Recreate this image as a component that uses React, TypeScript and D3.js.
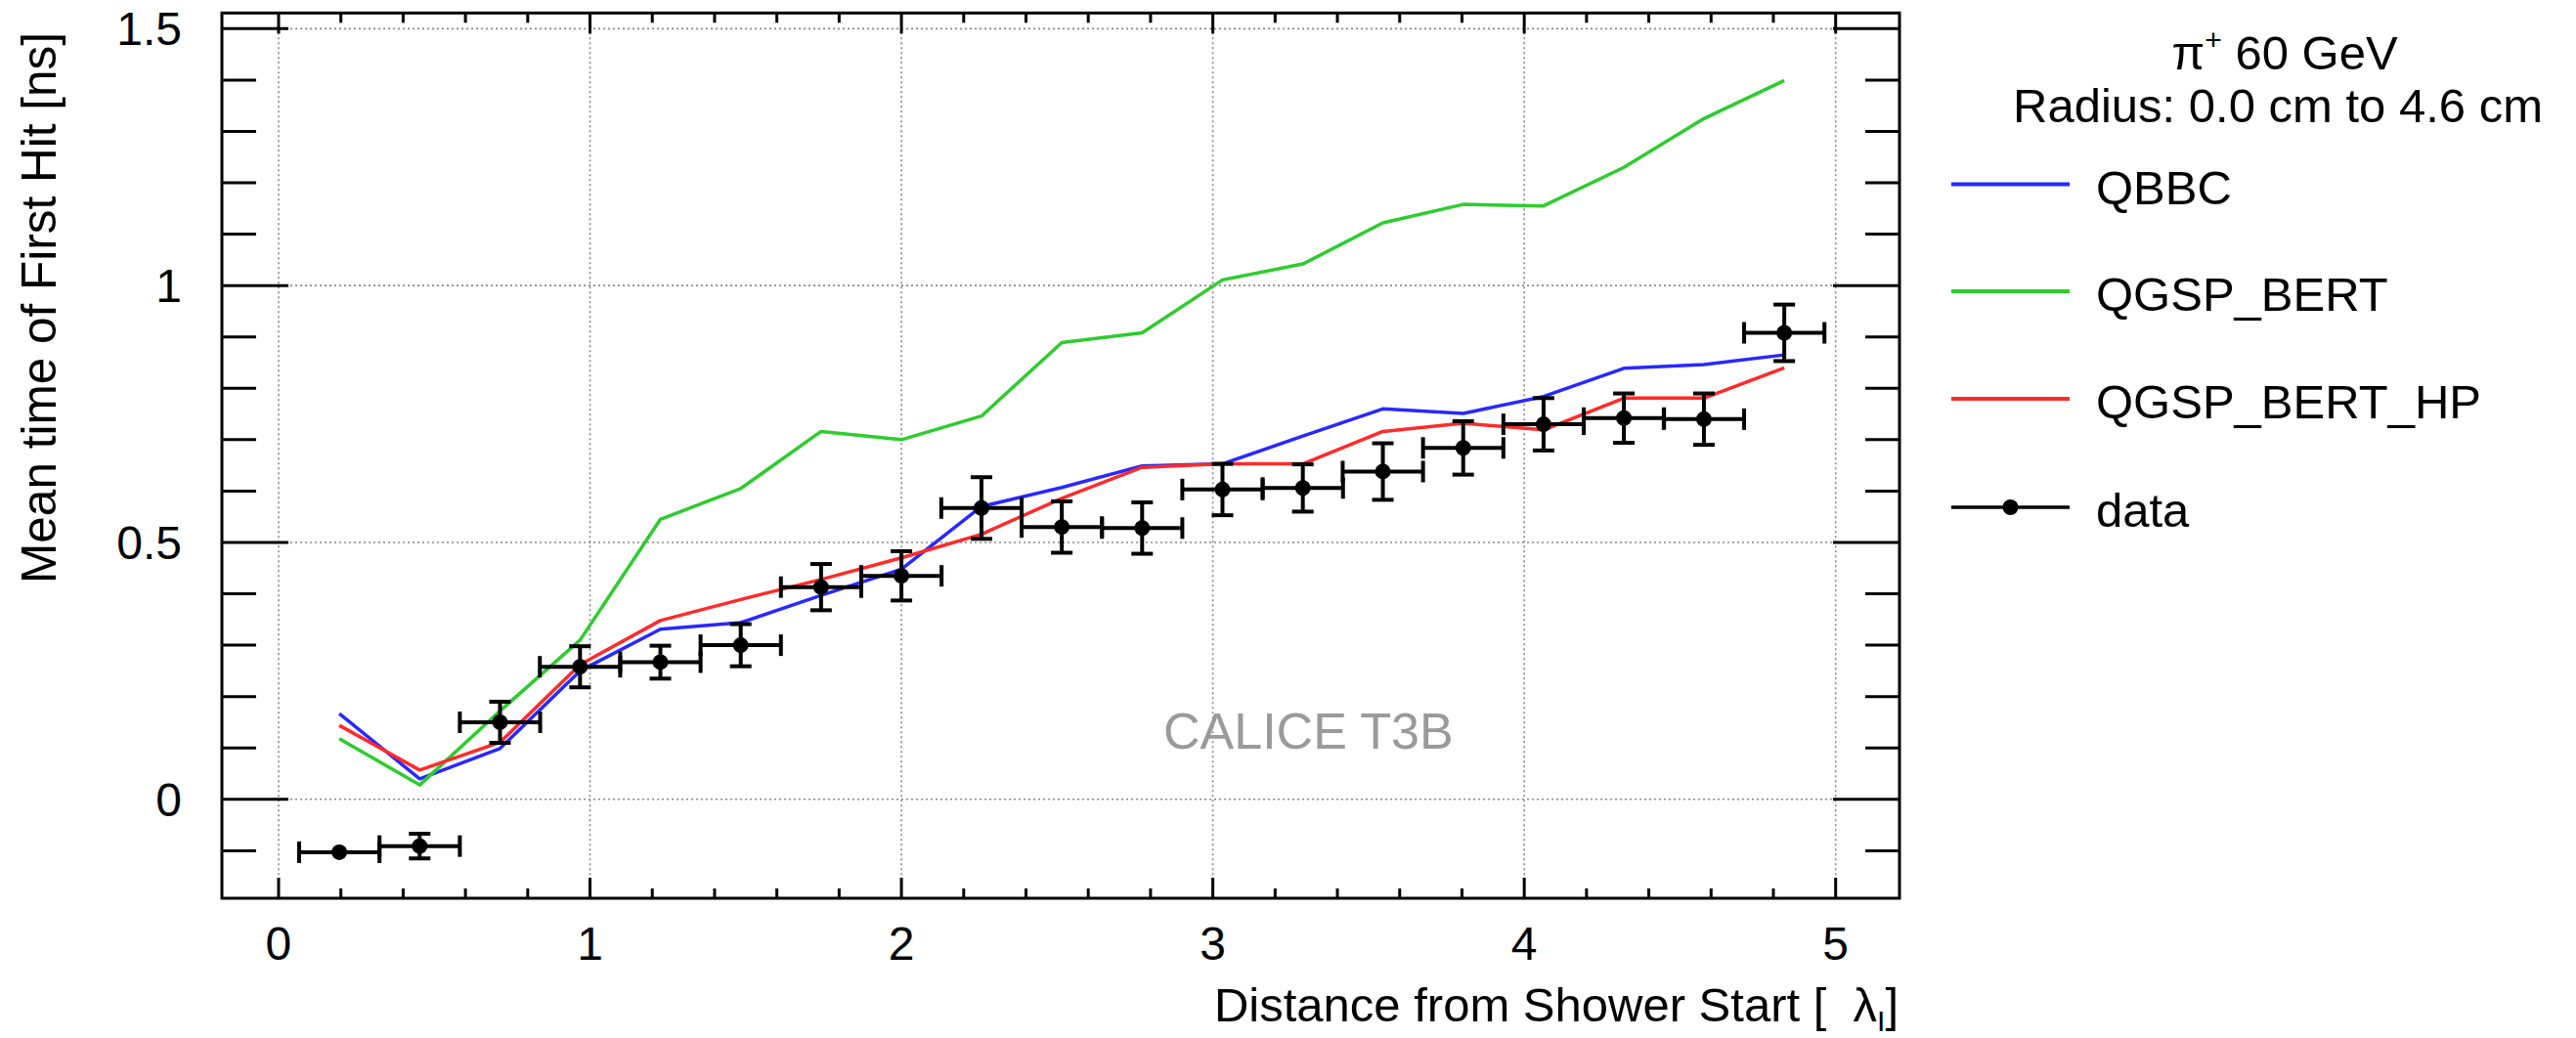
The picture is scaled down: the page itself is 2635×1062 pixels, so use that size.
import React from "react";
import * as d3 from "d3";

// ---- data ----
const binCenters = [0.195, 0.453, 0.711, 0.968, 1.226, 1.484, 1.742, 2.0, 2.257, 2.515, 2.773, 3.031, 3.289, 3.546, 3.804, 4.062, 4.32, 4.577, 4.835];
const binHalfWidth = 0.129;
const dataValues = [-0.103, -0.091, 0.15, 0.258, 0.267, 0.3, 0.413, 0.435, 0.567, 0.53, 0.528, 0.603, 0.606, 0.638, 0.684, 0.73, 0.742, 0.74, 0.908];
const dataErrors = [0.005, 0.024, 0.04, 0.04, 0.032, 0.041, 0.045, 0.048, 0.06, 0.05, 0.05, 0.05, 0.046, 0.055, 0.052, 0.051, 0.048, 0.05, 0.055];
const qbbc = [0.167, 0.04, 0.099, 0.25, 0.331, 0.344, 0.397, 0.448, 0.57, 0.607, 0.649, 0.653, 0.707, 0.76, 0.751, 0.784, 0.839, 0.846, 0.865];
const qgspBert = [0.118, 0.028, 0.172, 0.31, 0.545, 0.605, 0.716, 0.7, 0.746, 0.889, 0.908, 1.011, 1.042, 1.122, 1.158, 1.155, 1.23, 1.325, 1.399];
const qgspBertHp = [0.144, 0.057, 0.111, 0.262, 0.348, 0.389, 0.428, 0.47, 0.516, 0.586, 0.646, 0.653, 0.653, 0.716, 0.732, 0.719, 0.781, 0.781, 0.84];

const xMajorTicks = [0, 1, 2, 3, 4, 5];
const xTickLabels = ["0", "1", "2", "3", "4", "5"];
const yMajorTicks = [0, 0.5, 1, 1.5];
const yTickLabels = ["0", "0.5", "1", "1.5"];

const seriesNames = ["QBBC", "QGSP_BERT", "QGSP_BERT_HP"];
const seriesColors = ["#2828ff", "#2ecc2e", "#ff2a2a"];

const W = 2635;
const H = 1062;
const FONT = "'Liberation Sans', Arial, Helvetica, sans-serif";

export default function App() {
  const frame = { left: 227, right: 1943, top: 13.3, bottom: 919 };
  const x = d3.scaleLinear().domain([-0.182, 5.205]).range([frame.left, frame.right]);
  const y = d3.scaleLinear().domain([-0.1925, 1.5305]).range([frame.bottom, frame.top]);

  const xMinor = d3.range(0, 51).map((i) => i * 0.2).filter((v) => v <= 5.0001 && Math.abs(v - Math.round(v)) > 1e-6);
  const yMinor = d3.range(-1, 16).map((i) => i / 10).filter((v) => Math.abs(v * 2 - Math.round(v * 2)) > 1e-6);

  const line = d3
    .line<number>()
    .x((_, i) => x(binCenters[i]))
    .y((d) => y(d));

  const series = [qbbc, qgspBert, qgspBertHp];

  const yMajLen = 68;
  const yMinLen = 35;
  const xMajLen = 21;
  const xMinLen = 10;
  const tickW = 3;
  const cap = 11;
  const markerR = 8;

  const legendX1 = 1996;
  const legendX2 = 2117;
  const legendTextX = 2144;
  const legendYs = [188.5, 298, 408, 519];

  return (
    <div style={{ position: "absolute", left: 0, top: 0 }}>
      <svg width={W} height={H} viewBox={`0 0 ${W} ${H}`} style={{ display: "block", background: "#fff" }}>
        <rect x={0} y={0} width={W} height={H} fill="#fff" />
        {/* grid */}
        <g stroke="#888" strokeWidth={1.6} strokeDasharray="2 3">
          {xMajorTicks.map((t) => (
            <line key={"gx" + t} x1={x(t)} x2={x(t)} y1={frame.top} y2={frame.bottom} />
          ))}
          {yMajorTicks.map((t) => (
            <line key={"gy" + t} x1={frame.left} x2={frame.right} y1={y(t)} y2={y(t)} />
          ))}
        </g>

        {/* ticks */}
        <g stroke="#000" strokeWidth={tickW}>
          {xMajorTicks.map((t) => (
            <g key={"xt" + t}>
              <line x1={x(t)} x2={x(t)} y1={frame.bottom} y2={frame.bottom - xMajLen} />
              <line x1={x(t)} x2={x(t)} y1={frame.top} y2={frame.top + xMajLen} />
            </g>
          ))}
          {xMinor.map((t) => (
            <g key={"xm" + t}>
              <line x1={x(t)} x2={x(t)} y1={frame.bottom} y2={frame.bottom - xMinLen} />
              <line x1={x(t)} x2={x(t)} y1={frame.top} y2={frame.top + xMinLen} />
            </g>
          ))}
          {yMajorTicks.map((t) => (
            <g key={"yt" + t}>
              <line x1={frame.left} x2={frame.left + yMajLen} y1={y(t)} y2={y(t)} />
              <line x1={frame.right} x2={frame.right - yMajLen} y1={y(t)} y2={y(t)} />
            </g>
          ))}
          {yMinor.map((t) => (
            <g key={"ym" + t}>
              <line x1={frame.left} x2={frame.left + yMinLen} y1={y(t)} y2={y(t)} />
              <line x1={frame.right} x2={frame.right - yMinLen} y1={y(t)} y2={y(t)} />
            </g>
          ))}
        </g>

        {/* model lines */}
        {series.map((s, i) => (
          <path key={seriesNames[i]} d={line(s) || ""} fill="none" stroke={seriesColors[i]} strokeWidth={3.5} strokeLinejoin="round" />
        ))}

        {/* data with error bars */}
        <g stroke="#000" strokeWidth={4} fill="#000">
          {binCenters.map((c, i) => {
            const cx = x(c);
            const cy = y(dataValues[i]);
            const xl = x(c - binHalfWidth);
            const xr = x(c + binHalfWidth);
            const yt = y(dataValues[i] + dataErrors[i]);
            const yb = y(dataValues[i] - dataErrors[i]);
            const showV = cy - yt > markerR + 1;
            return (
              <g key={"d" + i}>
                <line x1={xl} x2={xr} y1={cy} y2={cy} />
                <line x1={xl} x2={xl} y1={cy - cap} y2={cy + cap} />
                <line x1={xr} x2={xr} y1={cy - cap} y2={cy + cap} />
                {showV && (
                  <>
                    <line x1={cx} x2={cx} y1={yt} y2={yb} />
                    <line x1={cx - cap} x2={cx + cap} y1={yt} y2={yt} />
                    <line x1={cx - cap} x2={cx + cap} y1={yb} y2={yb} />
                  </>
                )}
                <circle cx={cx} cy={cy} r={markerR} stroke="none" />
              </g>
            );
          })}
        </g>

        {/* frame */}
        <rect x={frame.left} y={frame.top} width={frame.right - frame.left} height={frame.bottom - frame.top} fill="none" stroke="#000" strokeWidth={3} />

        {/* tick labels */}
        <g fontFamily={FONT} fontSize={48} fill="#000">
          {xMajorTicks.map((t, i) => (
            <text key={"xl" + t} x={x(t)} y={982} textAnchor="middle">
              {xTickLabels[i]}
            </text>
          ))}
          {yMajorTicks.map((t, i) => (
            <text key={"yl" + t} x={186} y={y(t) + 17} textAnchor="end">
              {yTickLabels[i]}
            </text>
          ))}
        </g>

        {/* axis titles */}
        <text fontFamily={FONT} fontSize={49.5} fill="#000" textAnchor="end" transform={`translate(57, 33) rotate(-90)`}>
          Mean time of First Hit [ns]
        </text>
        <text fontFamily={FONT} fontSize={49} fill="#000" textAnchor="end" x={1942} y={1045}>
          {"Distance from Shower Start [\u00a0\u00a0λ"}
          <tspan fontSize={30} dy={10}>I</tspan>
          <tspan dy={-10}>]</tspan>
        </text>

        {/* watermark */}
        <text fontFamily={FONT} fontSize={52} fill="#9a9a9a" x={1190} y={766}>
          CALICE T3B
        </text>

        {/* legend */}
        <g fontFamily={FONT} fill="#000">
          <text x={2337} y={71} fontSize={49} textAnchor="middle">
            π<tspan fontSize={30} dy={-20}>+</tspan>
            <tspan dy={20}> 60 GeV</tspan>
          </text>
          <text x={2330} y={124.5} fontSize={49} textAnchor="middle">
            Radius: 0.0 cm to 4.6 cm
          </text>
          {seriesNames.map((n, i) => (
            <g key={"lg" + n}>
              <line x1={legendX1} x2={legendX2} y1={legendYs[i]} y2={legendYs[i]} stroke={seriesColors[i]} strokeWidth={4} />
              <text x={legendTextX} y={legendYs[i] + 20} fontSize={49}>
                {n}
              </text>
            </g>
          ))}
          <line x1={legendX1} x2={legendX2} y1={legendYs[3]} y2={legendYs[3]} stroke="#000" strokeWidth={3.5} />
          <circle cx={(legendX1 + legendX2) / 2} cy={legendYs[3]} r={markerR} fill="#000" />
          <text x={legendTextX} y={legendYs[3] + 20} fontSize={49}>
            data
          </text>
        </g>
      </svg>
    </div>
  );
}
